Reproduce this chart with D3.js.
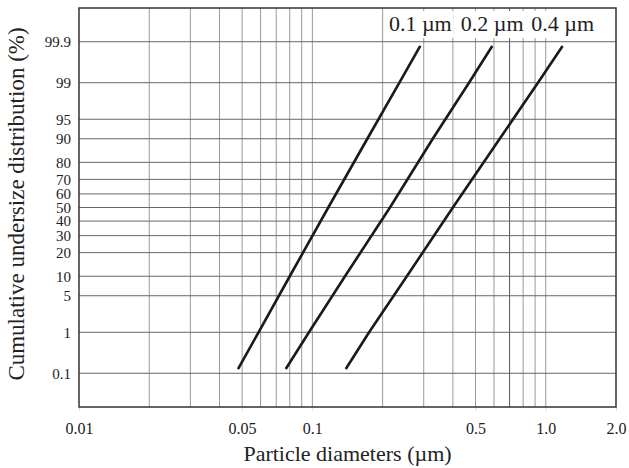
<!DOCTYPE html>
<html>
<head>
<meta charset="utf-8">
<script src="https://cdn.jsdelivr.net/npm/d3@7"></script>
<style>
    body { margin: 0; background: #fff; }
    text { font-family: "Liberation Serif", "Times New Roman", serif; fill: #222; }
</style>
</head>
<body>
<script>
//cumulative percentages where the curves were read
var pcts = [0.13, 1, 10, 50, 90, 99, 99.87];

//particle diameters (um) for each curve at those percentages
var d01 = [0.0480, 0.0588, 0.0800, 0.117, 0.172, 0.236, 0.290];
var d02 = [0.0769, 0.0967, 0.138, 0.215, 0.328, 0.469, 0.590];
var d04 = [0.139, 0.175, 0.254, 0.400, 0.635, 0.926, 1.181];
var seriesNames = ["0.1 \u00b5m", "0.2 \u00b5m", "0.4 \u00b5m"];

//tick values and labels
var yTicks = [0.1, 1, 5, 10, 20, 30, 40, 50, 60, 70, 80, 90, 95, 99, 99.9];
var xTicks = [0.01, 0.05, 0.1, 0.5, 1.0, 2.0];
var xTickLabels = ["0.01", "0.05", "0.1", "0.5", "1.0", "2.0"];
var xGrid = [0.02, 0.03, 0.04, 0.05, 0.06, 0.07, 0.08, 0.09, 0.1,
             0.2, 0.3, 0.4, 0.5, 0.6, 0.7, 0.8, 0.9, 1.0];

window.onload = function () {

    var w = 629, h = 468;
    var margin = { left: 79, top: 8, right: 13, bottom: 61 };

    //inverse normal cdf (acklam) for the probability axis
    function probit(p) {
        var a = [-39.69683028665376, 220.9460984245205, -275.9285104469687, 138.3577518672690, -30.66479806614716, 2.506628277459239];
        var b = [-54.47609879822406, 161.5858368580409, -155.6989798598866, 66.80131188771972, -13.28068155288572];
        var c = [-0.007784894002430293, -0.3223964580411365, -2.400758277161838, -2.549732539343734, 4.374664141464968, 2.938163982698783];
        var d = [0.007784695709041462, 0.3224671290700398, 2.445134137142996, 3.754408661907416];
        var q, r;
        if (p < 0.02425) {
            q = Math.sqrt(-2 * Math.log(p));
            return (((((c[0]*q+c[1])*q+c[2])*q+c[3])*q+c[4])*q+c[5]) / ((((d[0]*q+d[1])*q+d[2])*q+d[3])*q+1);
        } else if (p > 1 - 0.02425) {
            q = Math.sqrt(-2 * Math.log(1 - p));
            return -(((((c[0]*q+c[1])*q+c[2])*q+c[3])*q+c[4])*q+c[5]) / ((((d[0]*q+d[1])*q+d[2])*q+d[3])*q+1);
        }
        q = p - 0.5; r = q * q;
        return (((((a[0]*r+a[1])*r+a[2])*r+a[3])*r+a[4])*r+a[5])*q / (((((b[0]*r+b[1])*r+b[2])*r+b[3])*r+b[4])*r+1);
    }

    //scales
    var x = d3.scaleLog()
        .domain([0.01, 2.0])
        .range([margin.left, w - margin.right]);

    var z = d3.scaleLinear()
        .domain([probit(0.0001), probit(0.9999)])
        .range([h - margin.bottom, margin.top]);

    function y(pct) { return z(probit(pct / 100)); }

    var svg = d3.select("body")
        .append("svg")
        .attr("width", w)
        .attr("height", h);

    //vertical grid
    svg.selectAll(".vgrid")
        .data(xGrid)
        .enter()
        .append("line")
        .attr("class", "vgrid")
        .attr("x1", function(d) { return x(d); })
        .attr("x2", function(d) { return x(d); })
        .attr("y1", margin.top)
        .attr("y2", h - margin.bottom)
        .style("stroke", function(d) { return d === 0.7 ? "#555" : "#9a9a9a"; })
        .style("stroke-width", 1);

    //horizontal grid
    svg.selectAll(".hgrid")
        .data(yTicks)
        .enter()
        .append("line")
        .attr("class", "hgrid")
        .attr("x1", margin.left)
        .attr("x2", w - margin.right)
        .attr("y1", function(d) { return y(d); })
        .attr("y2", function(d) { return y(d); })
        .style("stroke", "#666")
        .style("stroke-width", 1);

    //y axis labels
    var yAxis = d3.axisLeft(z)
        .tickValues(yTicks.map(function(d) { return probit(d / 100); }))
        .tickFormat(function(d, i) { return yTicks[i]; })
        .tickSize(0)
        .tickPadding(8);

    var gy = svg.append("g")
        .attr("transform", "translate(" + margin.left + ",0)")
        .call(yAxis);
    gy.select(".domain").remove();
    gy.selectAll("text").style("font-size", "15px");

    //x axis labels
    var xAxis = d3.axisBottom(x)
        .tickValues(xTicks)
        .tickFormat(function(d, i) { return xTickLabels[i]; })
        .tickSize(4)
        .tickPadding(12);

    var gx = svg.append("g")
        .attr("transform", "translate(0," + (h - margin.bottom) + ")")
        .call(xAxis);
    gx.select(".domain").remove();
    gx.selectAll("line").style("stroke", "#ddd");
    gx.selectAll("text").style("font-size", "16px");

    //curves
    var series = [d01, d02, d04];
    var line = d3.line()
        .x(function(d) { return x(d[1]); })
        .y(function(d) { return y(d[0]); });

    svg.selectAll(".curve")
        .data(series)
        .enter()
        .append("path")
        .attr("class", "curve")
        .attr("d", function(s) { return line(pcts.map(function(p, i) { return [p, s[i]]; })); })
        .style("fill", "none")
        .style("stroke", "#1a1a1a")
        .style("stroke-width", 2.6);

    //frame
    svg.append("rect")
        .attr("x", margin.left)
        .attr("y", margin.top)
        .attr("width", w - margin.left - margin.right)
        .attr("height", h - margin.top - margin.bottom)
        .style("fill", "none")
        .style("stroke", "#333")
        .style("stroke-width", 1.5);

    //curve labels at the top ends, on white boxes
    var labels = svg.selectAll(".lab")
        .data(series)
        .enter()
        .append("g")
        .attr("class", "lab");

    labels.append("text")
        .attr("x", function(s) { return x(s[s.length - 1]); })
        .attr("y", 31)
        .attr("text-anchor", "middle")
        .style("font-size", "22px")
        .text(function(s, i) { return seriesNames[i]; });

    labels.insert("rect", "text")
        .each(function() {
            var bb = this.parentNode.querySelector("text").getBBox();
            d3.select(this)
                .attr("x", bb.x - 2)
                .attr("y", margin.top + 3)
                .attr("width", bb.width + 4)
                .attr("height", 27);
        })
        .style("fill", "#fff");

    //axis titles
    svg.append("text")
        .attr("x", (margin.left + w - margin.right) / 2)
        .attr("y", 461)
        .attr("text-anchor", "middle")
        .style("font-size", "22px")
        .text("Particle diameters (\u00b5m)");

    svg.append("text")
        .attr("transform", "translate(24,204) rotate(-90)")
        .attr("text-anchor", "middle")
        .style("font-size", "23px")
        .text("Cumulative undersize distribution (%)");
};
</script>
</body>
</html>
